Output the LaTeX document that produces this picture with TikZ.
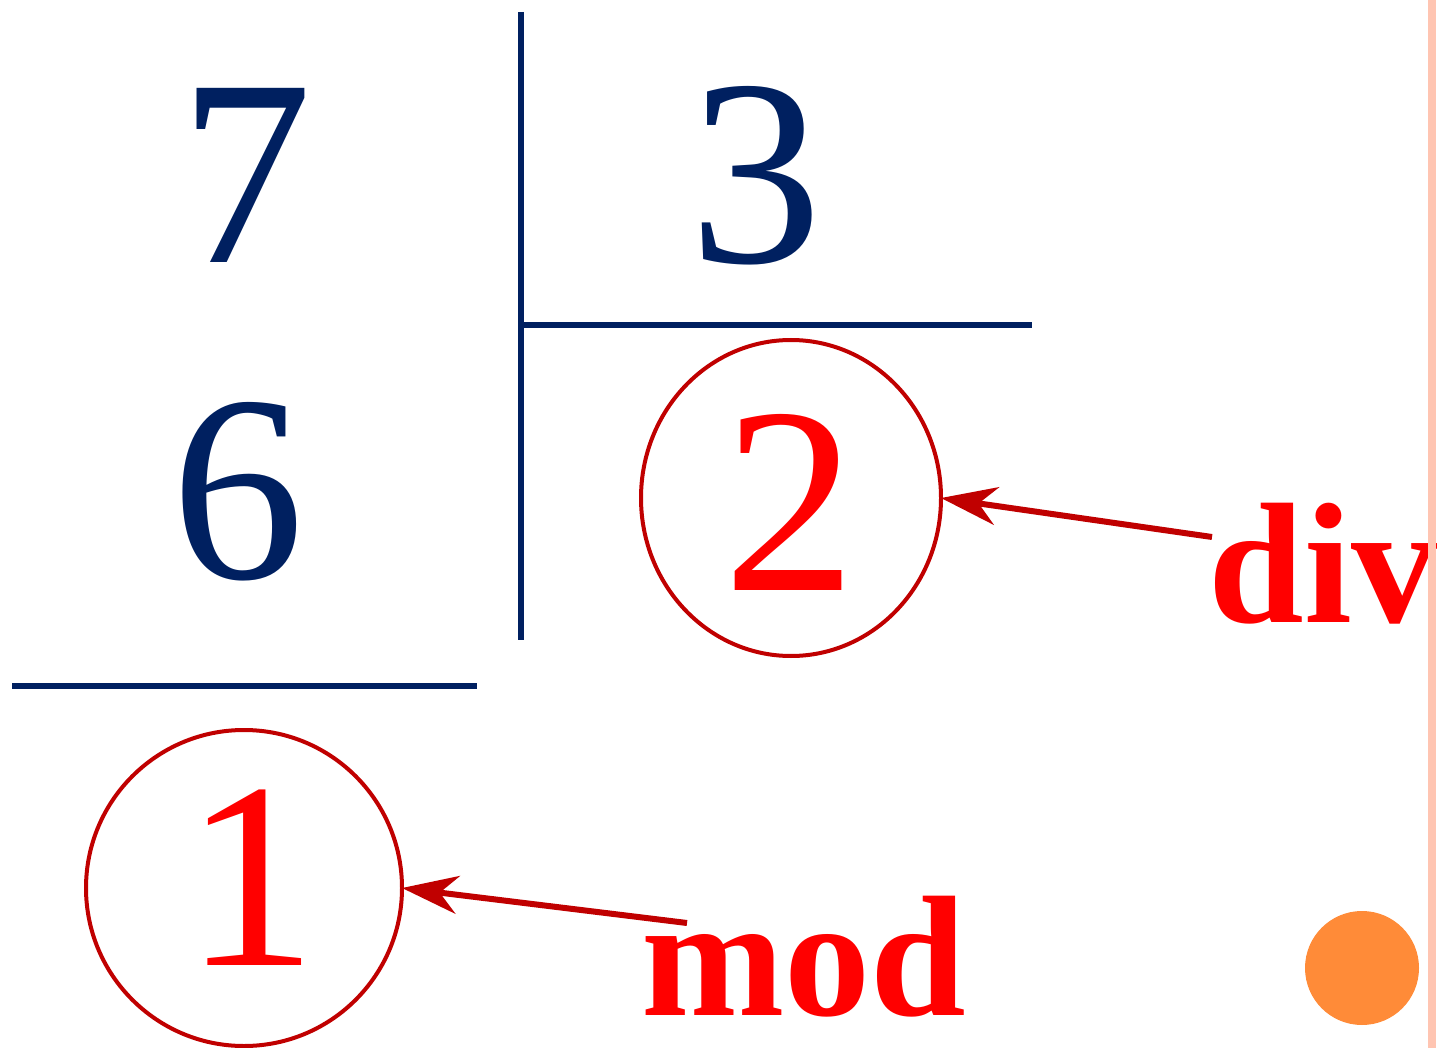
\documentclass[tikz,border=0pt]{standalone}
\usepackage{fontspec}
\setmainfont{Liberation Serif}
\usetikzlibrary{arrows.meta, shapes.geometric}

\definecolor{navy}{HTML}{002060}
\definecolor{darkred}{HTML}{C00000}
\definecolor{brightred}{HTML}{FF0000}
\definecolor{dotorange}{HTML}{FF8B38}
\definecolor{edgepink}{HTML}{FFC5B2}

\begin{document}
\begin{tikzpicture}[
    x=0.5pt, y=-0.5pt,
    >={Stealth[length=28pt, width=19pt, inset=9pt]}, % arrow tip for the labels
    digit/.style={navy, inner sep=0pt, anchor=base, font=\fontsize{133}{133}\selectfont},
    result/.style={digit, brightred},
    ring/.style={draw=darkred, line width=2pt, ellipse, inner sep=0pt, outer sep=0pt},
    word/.style={brightred, inner sep=0pt, anchor=base west, font=\fontsize{86}{86}\selectfont\bfseries},
    bar/.style={navy, line width=3pt},
    pointer/.style={->, darkred, line width=3pt}
]
\useasboundingbox (0,0) rectangle (1441,1048);

% Dividend, divisor and partial product
\node[digit] (seven) at (246,263) {7};
\node[digit] (three) at (756,263) {3};
\node[digit] (six) at (238,578) {6};

% Division bracket
\draw[bar] (521,12) -- (521,640);
\draw[bar] (521,325) -- (1032,325);
\draw[bar] (12,686) -- (477,686);

% Quotient and remainder, circled
\node[result] (quot) at (790,590) {2};
\node[ring, minimum width=150pt, minimum height=158pt] (quotring) at (791,498) {};
\node[result] (rem) at (251,965) {1};
\node[ring, minimum width=158pt, minimum height=158pt] (remring) at (244,888) {};

% Labels pointing at the circles
\node[word] (divlbl) at (1208,622) {div};
\node[word] (modlbl) at (641,1015) {mod};
\coordinate (divtail) at (1212,537);
\coordinate (modtail) at (687,923);
\draw[pointer] (divtail) -- (quotring.east);
\draw[pointer] (modtail) -- (remring.east);

% Slide decoration
\fill[dotorange] (1362,968) circle (28.5pt);
\fill[edgepink] (1428,0) rectangle (1436,1048);

\end{tikzpicture}
\end{document}
